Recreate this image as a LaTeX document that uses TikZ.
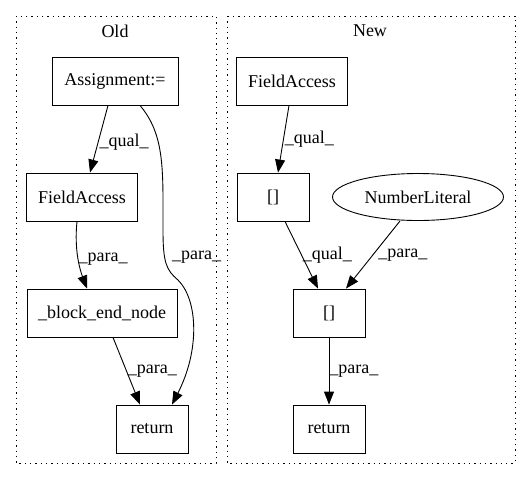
\documentclass[tikz,border=0pt]{standalone}
\usepackage{fontspec}
\setmainfont{Liberation Serif}
\usetikzlibrary{arrows.meta,shapes.geometric}
\begin{document}
\begin{tikzpicture}[x=1pt,y=-1pt,font=\fontsize{18}{20}\selectfont,
  box/.style={draw,rectangle,line width=0.9pt,inner sep=0pt,minimum height=48pt},
  oval/.style={draw,ellipse,line width=0.9pt,inner sep=0pt,minimum height=47pt,minimum width=171pt},
  cluster/.style={draw,line width=1pt,dash pattern=on 1.3pt off 4pt},
  arr/.style={-{Triangle[length=13pt,width=10pt]},line width=0.9pt},
  lbl/.style={inner sep=0pt,anchor=west}]
\useasboundingbox (0,0) rectangle (531,480);
% clusters
\draw[cluster] (16,16) rectangle (216,463);
\draw[cluster] (227,16) rectangle (515,463);
\node (told) at (115,31) {Old};
\node (tnew) at (370,31) {New};
% Old
\node[box,minimum width=126pt] (asg) at (115,81) {Assignment:=};
\node[box,minimum width=111pt] (fa1) at (82,197) {FieldAccess};
\node[box,minimum width=150pt] (ben) at (102,313) {\_block\_end\_node};
\node[box,minimum width=72pt] (ret1) at (152,429) {return};
\draw[arr] ([xshift=-7pt]asg.south) -- ([xshift=8pt]fa1.north)
  node[lbl,pos=0.55,xshift=1pt] {\_qual\_};
\draw[arr] ([xshift=-5pt]fa1.south) .. controls (74,250) and (80,270) .. ([xshift=-15pt]ben.north)
  node[lbl,pos=0.5] {\_para\_};
\draw[arr] ([xshift=11pt]ben.south) -- ([xshift=-12pt]ret1.north)
  node[lbl,pos=0.5,xshift=1pt] {\_para\_};
\draw[arr] ([xshift=25pt]asg.south) .. controls (165,135) and (163,170) .. (163,230)
  .. controls (163,262) and (166,270) .. (178,280)
  .. controls (198,300) and (200,350) .. ([xshift=20pt]ret1.north);
\node[lbl] (lp) at (172,257) {\_para\_};
% New
\node[box,minimum width=111pt] (fa2) at (292,81) {FieldAccess};
\node[box,minimum width=72pt] (br1) at (273,197) {[]};
\node[oval] (num) at (418,197) {NumberLiteral};
\node[box,minimum width=72pt] (br2) at (329,313) {[]};
\node[box,minimum width=72pt] (ret2) at (329,429) {return};
\draw[arr] ([xshift=-3pt]fa2.south) -- ([xshift=5pt]br1.north)
  node[lbl,pos=0.5,xshift=1pt] {\_qual\_};
\draw[arr] ([xshift=12pt]br1.south) -- ([xshift=-11pt]br2.north)
  node[lbl,pos=0.5,xshift=1pt] {\_qual\_};
\draw[arr] (400,221) -- ([xshift=17pt]br2.north)
  node[lbl,pos=0.5,xshift=5pt] {\_para\_};
\draw[arr] (br2.south) -- (ret2.north)
  node[lbl,pos=0.5] {\_para\_};
\end{tikzpicture}
\end{document}
